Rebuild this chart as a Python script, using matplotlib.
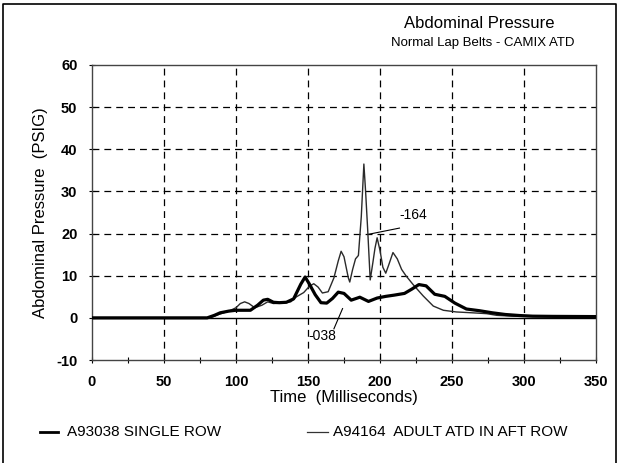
import matplotlib
matplotlib.use("Agg")
import matplotlib.pyplot as plt
from matplotlib.lines import Line2D

plt.rcParams['font.family'] = ['Liberation Sans', 'DejaVu Sans']
plt.rcParams['axes.unicode_minus'] = False

# A93038 single row (thick line)
t_038 = [0, 80, 85, 89, 95, 100, 105, 110, 115, 119, 122, 126, 130, 135, 140, 145,
         148, 151, 155, 159, 163, 167, 171, 175, 180, 186, 192, 198, 204, 210, 217,
         222, 227, 232, 238, 245, 252, 260, 269, 278, 287, 297, 306, 320, 350]
p_038 = [0, 0, 0.6, 1.2, 1.6, 1.8, 1.8, 1.8, 3.0, 4.2, 4.4, 3.7, 3.6, 3.7, 4.5, 8.0,
         9.7, 8.0, 5.5, 3.6, 3.5, 4.6, 6.1, 5.8, 4.2, 4.9, 3.9, 4.7, 5.1, 5.4, 5.8,
         6.8, 7.9, 7.6, 5.6, 5.1, 3.5, 2.1, 1.7, 1.2, 0.8, 0.55, 0.4, 0.35, 0.3]

# A94164 adult ATD in aft row (thin line)
t_164 = [0, 82, 88, 95, 100, 103, 106, 109, 113, 118, 122, 126, 132, 138, 142, 147,
         151, 154, 157, 160, 164, 168, 171, 173, 175, 178, 179, 181, 183, 185, 187,
         188.8, 190, 191.5, 193.2, 195, 196.5, 198, 200, 202, 204, 206, 209, 212,
         215, 218, 223, 230, 237, 244, 253, 264, 274, 281, 292, 310, 350]
p_164 = [0, 0, 0.8, 1.6, 2.4, 3.4, 3.8, 3.4, 2.4, 3.0, 3.8, 3.4, 3.5, 3.8, 5.0, 6.0,
         7.5, 8.1, 7.3, 5.9, 6.2, 9.5, 13.5, 15.8, 14.5, 9.5, 8.5, 11.5, 14.0, 14.8,
         24.0, 36.5, 30.0, 20.6, 9.0, 13.0, 16.5, 19.0, 16.0, 12.0, 10.6, 12.5, 15.5,
         14.0, 11.5, 10.0, 7.9, 5.2, 2.8, 1.8, 1.4, 1.2, 1.0, 0.6, 0.4, 0.3, 0.3]

x_ticks = [0, 50, 100, 150, 200, 250, 300, 350]
y_ticks = [-10, 0, 10, 20, 30, 40, 50, 60]

fig = plt.figure(figsize=(6.22, 4.63), dpi=100)
ax = fig.add_axes([92 / 622, 1 - 360 / 463, 504 / 622, 295 / 463])

# dashed grid, solid zero line
for x in x_ticks[1:-1]:
    ax.axvline(x, color='black', lw=0.9, ls=(0, (5.5, 4)), zorder=1)
for y in y_ticks[2:-1]:
    ax.axhline(y, color='black', lw=0.9, ls=(0, (5.5, 4)), zorder=1)
ax.axhline(0, color='black', lw=1.0, zorder=1)

ax.plot(t_164, p_164, color='#2a2a2a', lw=1.0, zorder=3)
ax.plot(t_038, p_038, color='black', lw=2.3, zorder=4)

# curve labels
ax.plot([191.6, 213.5], [19.8, 21.3], color='black', lw=0.8)
ax.text(223, 24.5, '-164', fontsize=10, ha='center', va='center')
ax.plot([168, 174], [-2.6, 2.2], color='black', lw=0.8)
ax.text(160, -4.4, '-038', fontsize=10, ha='center', va='center')

ax.set_xlim(0, 350)
ax.set_ylim(-10, 60)
ax.set_xticks(x_ticks)
ax.set_yticks(y_ticks)
ax.set_xticks([25, 75, 125, 175, 225, 275, 325], minor=True)
ax.tick_params(direction='inout', length=5, width=0.8, labelsize=10.5, pad=8)
ax.tick_params(which='minor', direction='inout', length=4, width=0.8)
for lab in ax.get_xticklabels() + ax.get_yticklabels():
    lab.set_fontweight('bold')
for s in ax.spines.values():
    s.set_linewidth(1.0)
    s.set_color('#444444')

ax.set_xlabel('Time  (Milliseconds)', fontsize=12, labelpad=1)
ax.set_ylabel('Abdominal Pressure  (PSIG)', fontsize=12, labelpad=6)

fig.text(479 / 622, 1 - 23 / 463, 'Abdominal Pressure', fontsize=12, ha='center', va='center')
fig.text(483 / 622, 1 - 43 / 463, 'Normal Lap Belts - CAMIX ATD', fontsize=9.5, ha='center', va='center')

# legend
ly = 1 - 432 / 463
fig.add_artist(Line2D([40 / 622, 58 / 622], [ly, ly], color='black', lw=2.0, transform=fig.transFigure))
fig.text(67 / 622, ly, 'A93038 SINGLE ROW', fontsize=11, va='center')
fig.add_artist(Line2D([307 / 622, 328 / 622], [ly, ly], color='#333333', lw=0.9, transform=fig.transFigure))
fig.text(333 / 622, ly, 'A94164  ADULT ATD IN AFT ROW', fontsize=11, va='center')

# outer frame
fig.add_artist(Line2D([3 / 622, 3 / 622, 616 / 622, 616 / 622], [0, 1 - 4 / 463, 1 - 4 / 463, 0],
                      color='black', lw=1.2, transform=fig.transFigure))

fig.savefig('out.png', dpi=100)
